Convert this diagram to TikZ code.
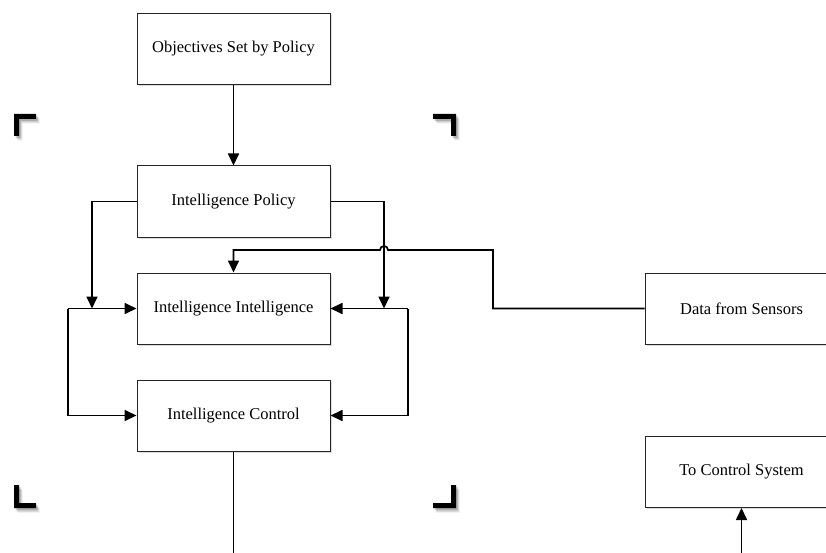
\documentclass[tikz,border=0pt]{standalone}
\usepackage{fontspec}
\setmainfont{Liberation Serif}
\usetikzlibrary{arrows.meta,shadows}
\begin{document}
\begin{tikzpicture}[x=1pt,y=-1pt,
  box/.style={draw=black!85,line width=1pt,fill=white,minimum width=193pt,minimum height=71pt,
    inner sep=0pt,font=\fontsize{16.5}{20}\selectfont,
    drop shadow={shadow xshift=1.8pt,shadow yshift=-1.8pt,opacity=0.28}},
  link/.style={line width=1.7pt,black},
  arr/.style={link,-{Triangle[length=12pt,width=11pt]}},
  corner/.style={fill=black}
]
\useasboundingbox (0,0) rectangle (826,553);
\clip (0,0) rectangle (826,553);

% focus brackets, each with a soft shadow
\foreach \dx/\dy/\op in {3.5/4.5/0.08,2.5/3.5/0.12,1.5/2/0.16}{
  \fill[black,opacity=\op,shift={(\dx,\dy)}] (14,114) -- (36,114) -- (36,119) -- (19,119) -- (19,136) -- (14,136) -- cycle;
  \fill[black,opacity=\op,shift={(\dx,\dy)}] (433,114) -- (456,114) -- (456,136) -- (451,136) -- (451,119) -- (433,119) -- cycle;
  \fill[black,opacity=\op,shift={(\dx,\dy)}] (14,485) -- (19,485) -- (19,503) -- (36,503) -- (36,508) -- (14,508) -- cycle;
  \fill[black,opacity=\op,shift={(\dx,\dy)}] (451,485) -- (456,485) -- (456,508) -- (433,508) -- (433,503) -- (451,503) -- cycle;
}
\fill[corner] (14,114) -- (36,114) -- (36,119) -- (19,119) -- (19,136) -- (14,136) -- cycle;
\fill[corner] (433,114) -- (456,114) -- (456,136) -- (451,136) -- (451,119) -- (433,119) -- cycle;
\fill[corner] (14,485) -- (19,485) -- (19,503) -- (36,503) -- (36,508) -- (14,508) -- cycle;
\fill[corner] (451,485) -- (456,485) -- (456,508) -- (433,508) -- (433,503) -- (451,503) -- cycle;

% boxes
\node[box] (obj) at (233.5,49)   {Objectives Set by Policy};
\node[box] (ip)  at (233.5,201.5) {Intelligence Policy};
\node[box] (ii)  at (233.5,308.5) {Intelligence Intelligence};
\node[box] (ic)  at (233.5,415.5) {Intelligence Control};
\node[box] (ds)  at (741.5,308.5) {Data from Sensors};
\node[box] (tc)  at (741.5,472)   {To Control System};

% junction points of the loops
\coordinate (lj) at (92,308.5);
\coordinate (rj) at (384,308.5);
\coordinate (ll) at (68,308.5);
\coordinate (rl) at (408,308.5);
\coordinate (bottomout) at (233.5,553);
\coordinate (bottomin) at (741.5,553);

% connectors
\draw[arr] (obj.south) -- (ip.north);
\draw[arr] (ip.west) -| (lj);
\draw[arr] (ip.east) -| (rj);
\draw[arr] (ll) -- (ii.west);
\draw[arr] (ll) |- (ic.west);
\draw[arr] (rl) -- (ii.east);
\draw[arr] (rl) |- (ic.east);
\draw[arr] (ds.west) -| (493,250) -- (388,250)
  arc[start angle=0,end angle=180,radius=4pt] -- (233.5,250) -- (ii.north);
\draw[link] (ic.south) -- (bottomout);
\draw[arr] (bottomin) -- (tc.south);
\end{tikzpicture}
\end{document}
